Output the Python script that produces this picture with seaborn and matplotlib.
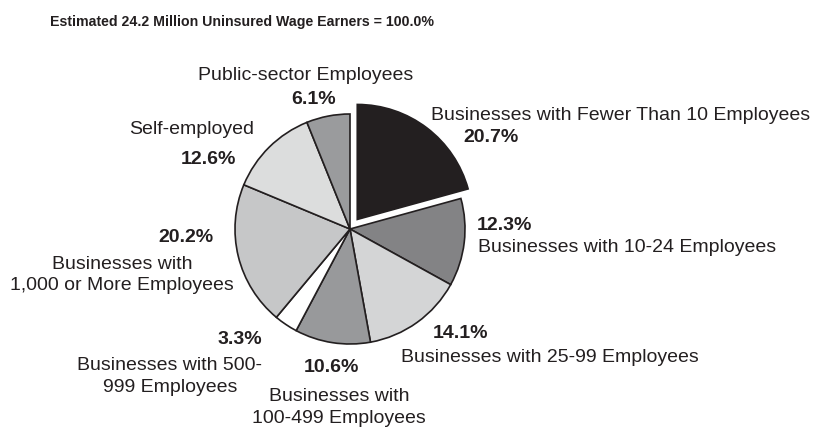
import matplotlib
matplotlib.use("Agg")
import matplotlib.pyplot as plt
import seaborn as sns

# Share of the estimated 24.2 million uninsured wage earners, by employer type
categories = [
    "Businesses with Fewer Than 10 Employees",
    "Businesses with 10-24 Employees",
    "Businesses with 25-99 Employees",
    "Businesses with\n100-499 Employees",
    "Businesses with 500-\n999 Employees",
    "Businesses with\n1,000 or More Employees",
    "Self-employed",
    "Public-sector Employees",
]
shares = [20.7, 12.3, 14.1, 10.6, 3.3, 20.2, 12.6, 6.1]
fill_colors = ["#231f20", "#838385", "#d4d5d6", "#98999b", "#ffffff",
               "#c6c7c8", "#dcdddd", "#9a9b9d"]

title = "Estimated 24.2 Million Uninsured Wage Earners = 100.0%"

sns.set_theme(style="white")
plt.rcParams["font.family"] = ["Liberation Sans", "DejaVu Sans"]

W, H = 820, 429
fig = plt.figure(figsize=(W / 100, H / 100), dpi=100)
ax = fig.add_axes([0, 0, 1, 1])

# Pull the first (smallest-business) slice out from the centre
pull_out = 12
explode = [pull_out if i == 0 else 0 for i in range(len(shares))]

ax.pie(shares, colors=fill_colors, explode=explode, startangle=90,
       counterclock=False, center=(350, H - 229), radius=115,
       wedgeprops=dict(edgecolor="#231f20", linewidth=1.2),
       normalize=True, frame=True)
ax.set_xlim(0, W)
ax.set_ylim(0, H)
ax.set_aspect("equal")
ax.axis("off")

ink = "#231f20"
fs = 14


def put(x, y, s, ha="left", bold=False, **kw):
    ax.text(x, H - y, s, ha=ha, va="center", fontsize=fs, color=ink,
            fontweight="bold" if bold else "normal", **kw)


pct = [f"{v:.1f}%" for v in shares]

put(431, 115, categories[0])
put(463, 138, pct[0], bold=True)

put(477, 225, pct[1], bold=True)
put(478, 247, categories[1])

put(433, 333, pct[2], bold=True)
put(401, 358, categories[2])

put(331, 368, pct[3], ha="center", bold=True)
put(339, 407.5, categories[3], ha="center", multialignment="center",
    linespacing=1.32)

put(262, 340, pct[4], ha="right", bold=True)
put(170, 376.5, categories[4], ha="center", multialignment="center",
    linespacing=1.32)

put(186, 237, pct[5], ha="center", bold=True)
put(122, 275, categories[5], ha="center", multialignment="center",
    linespacing=1.32)

put(192, 129, categories[6], ha="center")
put(208, 160, pct[6], ha="center", bold=True)

put(306, 75, categories[7], ha="center")
put(314, 100, pct[7], ha="center", bold=True)

ax.text(50, H - 22, title, ha="left", va="center", fontsize=10.2,
        fontweight="bold", color=ink)

fig.savefig("out.png", dpi=100)
